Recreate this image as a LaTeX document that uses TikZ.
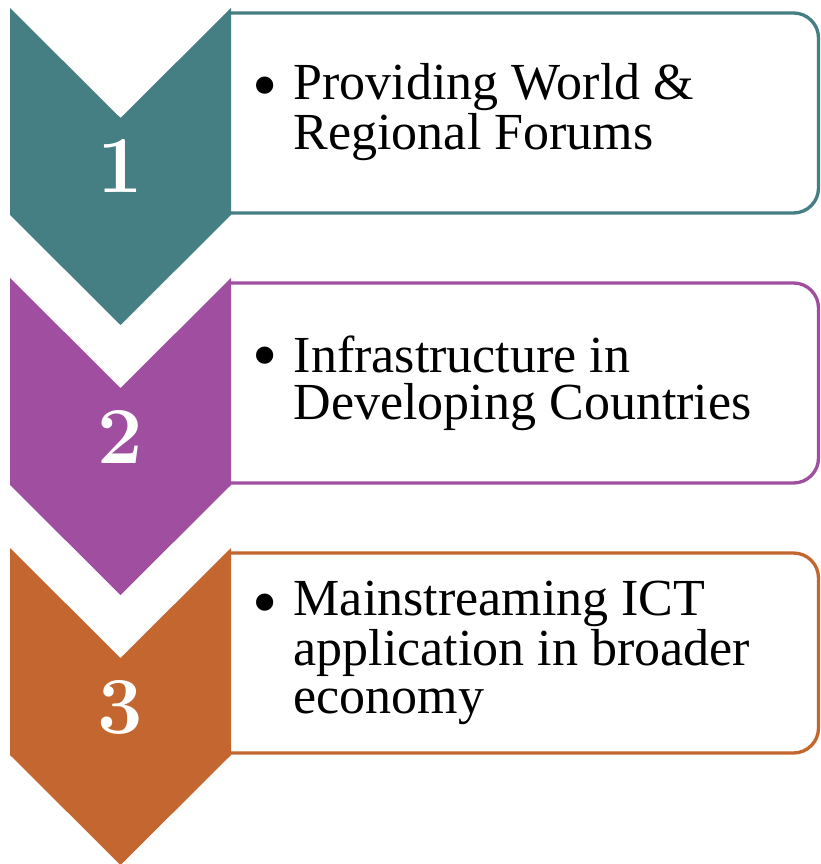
\documentclass[tikz,border=0pt]{standalone}
\usepackage{fontspec}
\usepackage{tikz}
\newfontfamily\itemfont{Liberation Serif}
\definecolor{forumcolor}{HTML}{467F83}
\definecolor{infracolor}{HTML}{A04EA0}
\definecolor{ictcolor}{HTML}{C4662F}

\begin{document}
\begin{tikzpicture}[x=1cm, y=-1cm,
    stepbox/.style={line width=0.95pt, rounded corners=0.25cm, fill=white},
    stepnum/.style={white, anchor=base, inner sep=0pt, font=\bfseries\fontsize{23}{23}\selectfont},
    bulletmark/.style={anchor=base, inner sep=0pt, font=\itemfont\fontsize{20.5}{20}\selectfont},
    itemtext/.style={anchor=base west, align=left, inner sep=0pt, font=\itemfont\fontsize{14.8}{13.4}\selectfont}]

    \useasboundingbox (0,0) rectangle (8.21,8.64);

    % Step 1
    \draw[stepbox, draw=forumcolor] (2.31,0.13) -- (8.185,0.13) -- (8.185,2.13) -- (2.31,2.13);
    \fill[forumcolor] (0.10,0.08) -- (1.205,1.18) -- (2.31,0.08) -- (2.31,2.15) -- (1.205,3.25) -- (0.10,2.15) -- cycle;
    \node[stepnum] (n1) at (1.205,1.93) {1};
    \node[bulletmark] (b1) at (2.655,1.10) {\textbullet};
    \node[itemtext] (t1) at (2.93,1.50) {Providing World \&\\Regional Forums};

    % Step 2
    \draw[stepbox, draw=infracolor] (2.31,2.83) -- (8.185,2.83) -- (8.185,4.83) -- (2.31,4.83);
    \fill[infracolor] (0.10,2.78) -- (1.205,3.88) -- (2.31,2.78) -- (2.31,4.85) -- (1.205,5.95) -- (0.10,4.85) -- cycle;
    \node[stepnum] (n2) at (1.205,4.63) {2};
    \node[bulletmark] (b2) at (2.655,3.80) {\textbullet};
    \node[itemtext] (t2) at (2.93,4.20) {Infrastructure in\\Developing Countries};

    % Step 3
    \draw[stepbox, draw=ictcolor] (2.31,5.53) -- (8.185,5.53) -- (8.185,7.53) -- (2.31,7.53);
    \fill[ictcolor] (0.10,5.48) -- (1.205,6.58) -- (2.31,5.48) -- (2.31,7.55) -- (1.205,8.65) -- (0.10,7.55) -- cycle;
    \node[stepnum] (n3) at (1.205,7.33) {3};
    \node[bulletmark] (b3) at (2.655,6.26) {\textbullet};
    \node[itemtext] (t3) at (2.93,7.13) {Mainstreaming ICT\\application in broader\\economy};

\end{tikzpicture}
\end{document}
